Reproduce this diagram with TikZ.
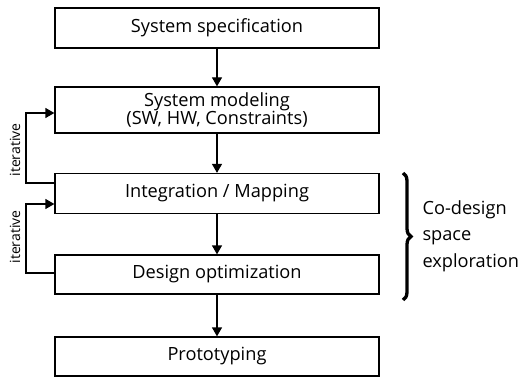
\documentclass[tikz,border=0pt]{standalone}
\usepackage{fontspec}
\setmainfont{Open Sans}
\usetikzlibrary{arrows.meta,decorations.pathreplacing}

\begin{document}
\begin{tikzpicture}[x=1pt,y=-1pt,
  stage/.style={draw, line width=1.3pt, minimum width=324pt, inner sep=0pt,
    align=center, font=\fontsize{18.2}{18.5}\selectfont},
  flow/.style={line width=1.3pt, -{Triangle[length=9pt,width=10pt]}},
  loopnote/.style={font=\fontsize{14}{15}\selectfont, rotate=90}
]
\useasboundingbox (0,0) rectangle (521,379);

% design flow stages
\node[stage, minimum height=40pt] (spec) at (217,28) {System specification};
\node[stage, minimum height=46pt] (model) at (217,110) {System modeling\\(SW, HW, Constraints)};
\node[stage, minimum height=40pt] (map) at (217,193.5) {Integration / Mapping};
\node[stage, minimum height=39pt] (opt) at (217,274.5) {Design optimization};
\node[stage, minimum height=39pt] (proto) at (217,356.5) {Prototyping};

% forward arrows
\draw[flow] (spec) -- (model);
\draw[flow] (model) -- (map);
\draw[flow] (map) -- (opt);
\draw[flow] (opt) -- (proto);

% feedback loops
\coordinate (l1a) at (26,183);
\coordinate (l1b) at (26,113);
\coordinate (l2a) at (26,273);
\coordinate (l2b) at (26,204);
\draw[flow] (map.west |- l1a) -- (l1a) -- (l1b) -- (model.west |- l1b);
\draw[flow] (opt.west |- l2a) -- (l2a) -- (l2b) -- (map.west |- l2b);
\node[loopnote] (it1) at (15,150) {iterative};
\node[loopnote] (it2) at (15,237) {iterative};

% brace around the exploration stages
\coordinate (b1) at (403,173);
\coordinate (b2) at (403,300);
\draw[line width=3.3pt, decorate, decoration={brace, amplitude=8pt}] (b1) -- (b2);
\node[anchor=west, align=left, font=\fontsize{18.2}{26.5}\selectfont] (cds) at (419,236) {Co-design\\space\\exploration};
\end{tikzpicture}
\end{document}
